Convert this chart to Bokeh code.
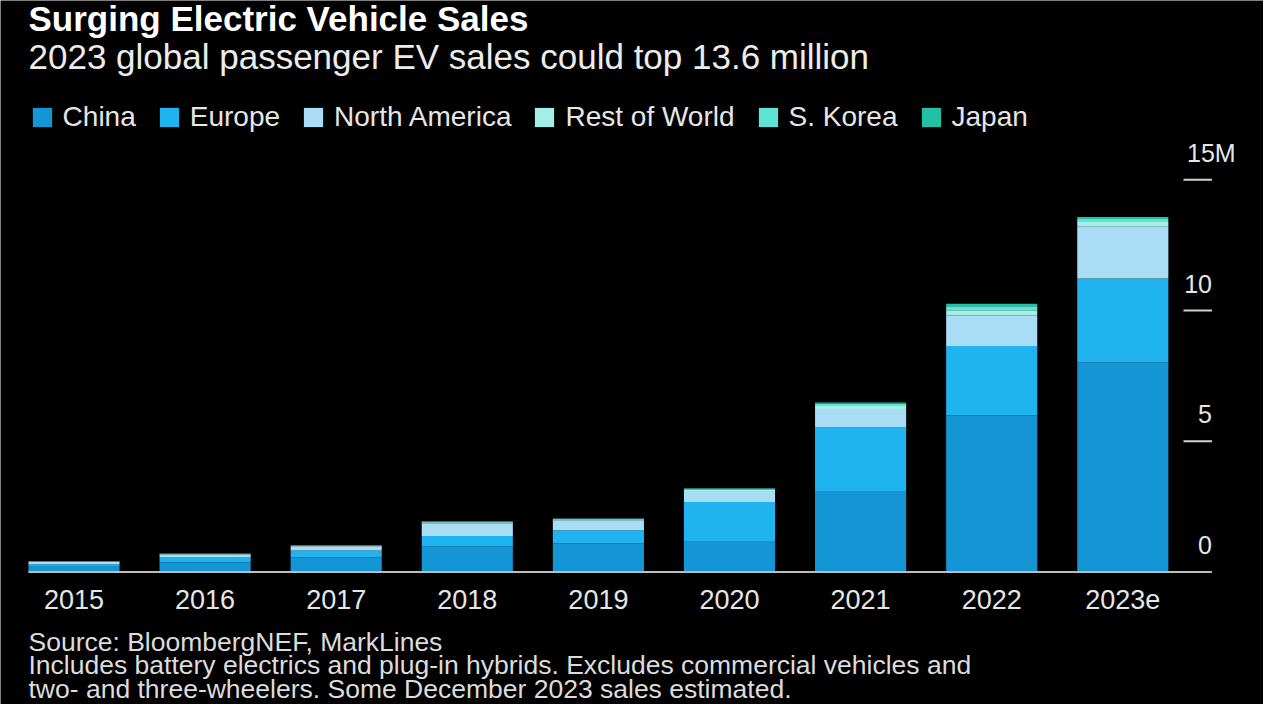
from bokeh.plotting import figure
from bokeh.models import Range1d, Label, Legend, LegendItem, ColumnDataSource
from bokeh.embed import file_html
from bokeh.resources import INLINE
from bokeh.core.properties import value

# ---------------- data (millions of vehicles) ----------------
years = ["2015", "2016", "2017", "2018", "2019", "2020", "2021", "2022", "2023e"]
china = [0.20, 0.36, 0.55, 0.98, 1.09, 1.19, 3.10, 5.98, 8.02]
europe = [0.10, 0.19, 0.27, 0.40, 0.51, 1.49, 2.43, 2.66, 3.20]
north_america = [0.08, 0.12, 0.16, 0.48, 0.38, 0.42, 0.70, 1.17, 2.00]
rest_of_world = [0.02, 0.02, 0.02, 0.04, 0.04, 0.05, 0.12, 0.20, 0.16]
s_korea = [0.00, 0.01, 0.01, 0.02, 0.02, 0.03, 0.08, 0.15, 0.12]
japan = [0.01, 0.01, 0.01, 0.02, 0.01, 0.02, 0.05, 0.10, 0.08]

regions = ["China", "Europe", "North America", "Rest of World", "S. Korea", "Japan"]
colors = ["#1496d6", "#1fb3f0", "#a8ddf5", "#a3efe5", "#5fe3d5", "#22c1a4"]

y_ticks = [0, 5, 10, 15]
y_tick_labels = ["0", "5", "10", "15M"]

title = "Surging Electric Vehicle Sales"
subtitle = "2023 global passenger EV sales could top 13.6 million"
footer = [
    "Source: BloombergNEF, MarkLines",
    "Includes battery electrics and plug-in hybrids. Excludes commercial vehicles and",
    "two- and three-wheelers. Some December 2023 sales estimated.",
]

# ---------------- layout constants ----------------
W, H = 1263, 704
PX_PER_M = 26.15          # pixels per million
Y0_PX = 571.5             # zero line, px from top
X0_PX = 73.5              # centre of first bar, px from left
STEP = 131.1              # px between bar centres
BAR_W = 0.695
TICK_X0 = 8.463
TICK_X1 = 8.68

FONT = "Liberation Sans"

x_range = Range1d(-X0_PX / STEP, (W - X0_PX) / STEP)
y_range = Range1d(-(H - Y0_PX) / PX_PER_M, Y0_PX / PX_PER_M)

p = figure(width=W, height=H, x_range=x_range, y_range=y_range,
           output_backend="svg", toolbar_location=None,
           x_axis_location=None, y_axis_location=None,
           min_border=0, background_fill_color="#000000",
           border_fill_color="#000000", outline_line_color=None)
p.grid.visible = False

xs = list(range(len(years)))
src = ColumnDataSource(dict(x=xs, **{
    "China": china, "Europe": europe, "North America": north_america,
    "Rest of World": rest_of_world, "S. Korea": s_korea, "Japan": japan}))

rends = p.vbar_stack(regions, x="x", width=BAR_W, color=colors,
                     line_color=None, source=src)

# baseline + ticks
p.segment(x0=[-BAR_W / 2], y0=[0], x1=[TICK_X1], y1=[0],
          line_color="#bdbdbd", line_width=2)
p.segment(x0=[TICK_X0] * 3, y0=y_ticks[1:], x1=[TICK_X1] * 3, y1=y_ticks[1:],
          line_color="#d0d0d0", line_width=2)

# y tick labels (above tick marks)
p.text(x=[TICK_X1] * 3, y=y_ticks[:3], text=y_tick_labels[:3],
       text_align="right", text_baseline="middle", y_offset=-27,
       text_color="#e6e6e6", text_font=value(FONT), text_font_size="25px")
p.text(x=[8.49], y=y_ticks[3:], text=y_tick_labels[3:],
       text_align="left", text_baseline="middle", y_offset=-27,
       text_color="#e6e6e6", text_font=value(FONT), text_font_size="25px")

# x tick labels
p.text(x=xs, y=[0] * len(xs), text=years, text_align="center",
       text_baseline="middle", y_offset=27,
       text_color="#e6e6e6", text_font=value(FONT), text_font_size="27px")

# titles
p.add_layout(Label(x=28, y=H - 18, x_units="screen", y_units="screen",
                   text=title, text_font=FONT, text_font_size="35px",
                   text_font_style="bold", text_color="#ffffff",
                   text_baseline="middle"))
p.add_layout(Label(x=28, y=H - 56, x_units="screen", y_units="screen",
                   text=subtitle, text_font=FONT, text_font_size="35px",
                   text_color="#ececec", text_baseline="middle"))

# footer
for i, line in enumerate(footer):
    p.add_layout(Label(x=28, y=H - (641 + 23.5 * i), x_units="screen",
                       y_units="screen", text=line, text_font=FONT,
                       text_font_size="26.5px", text_color="#dcdcdc",
                       text_baseline="middle"))

legend = Legend(items=[LegendItem(label=r, renderers=[rr]) for r, rr in zip(regions, rends)],
                orientation="horizontal", location=(29.6, H - 133),
                background_fill_alpha=0, border_line_color=None,
                label_text_color="#e6e6e6", label_text_font=FONT,
                label_text_font_size="28px", glyph_width=24, glyph_height=24,
                label_standoff=9, spacing=21, padding=0, margin=0)
p.add_layout(legend)

open("out.html", "w").write(file_html(p, INLINE))
